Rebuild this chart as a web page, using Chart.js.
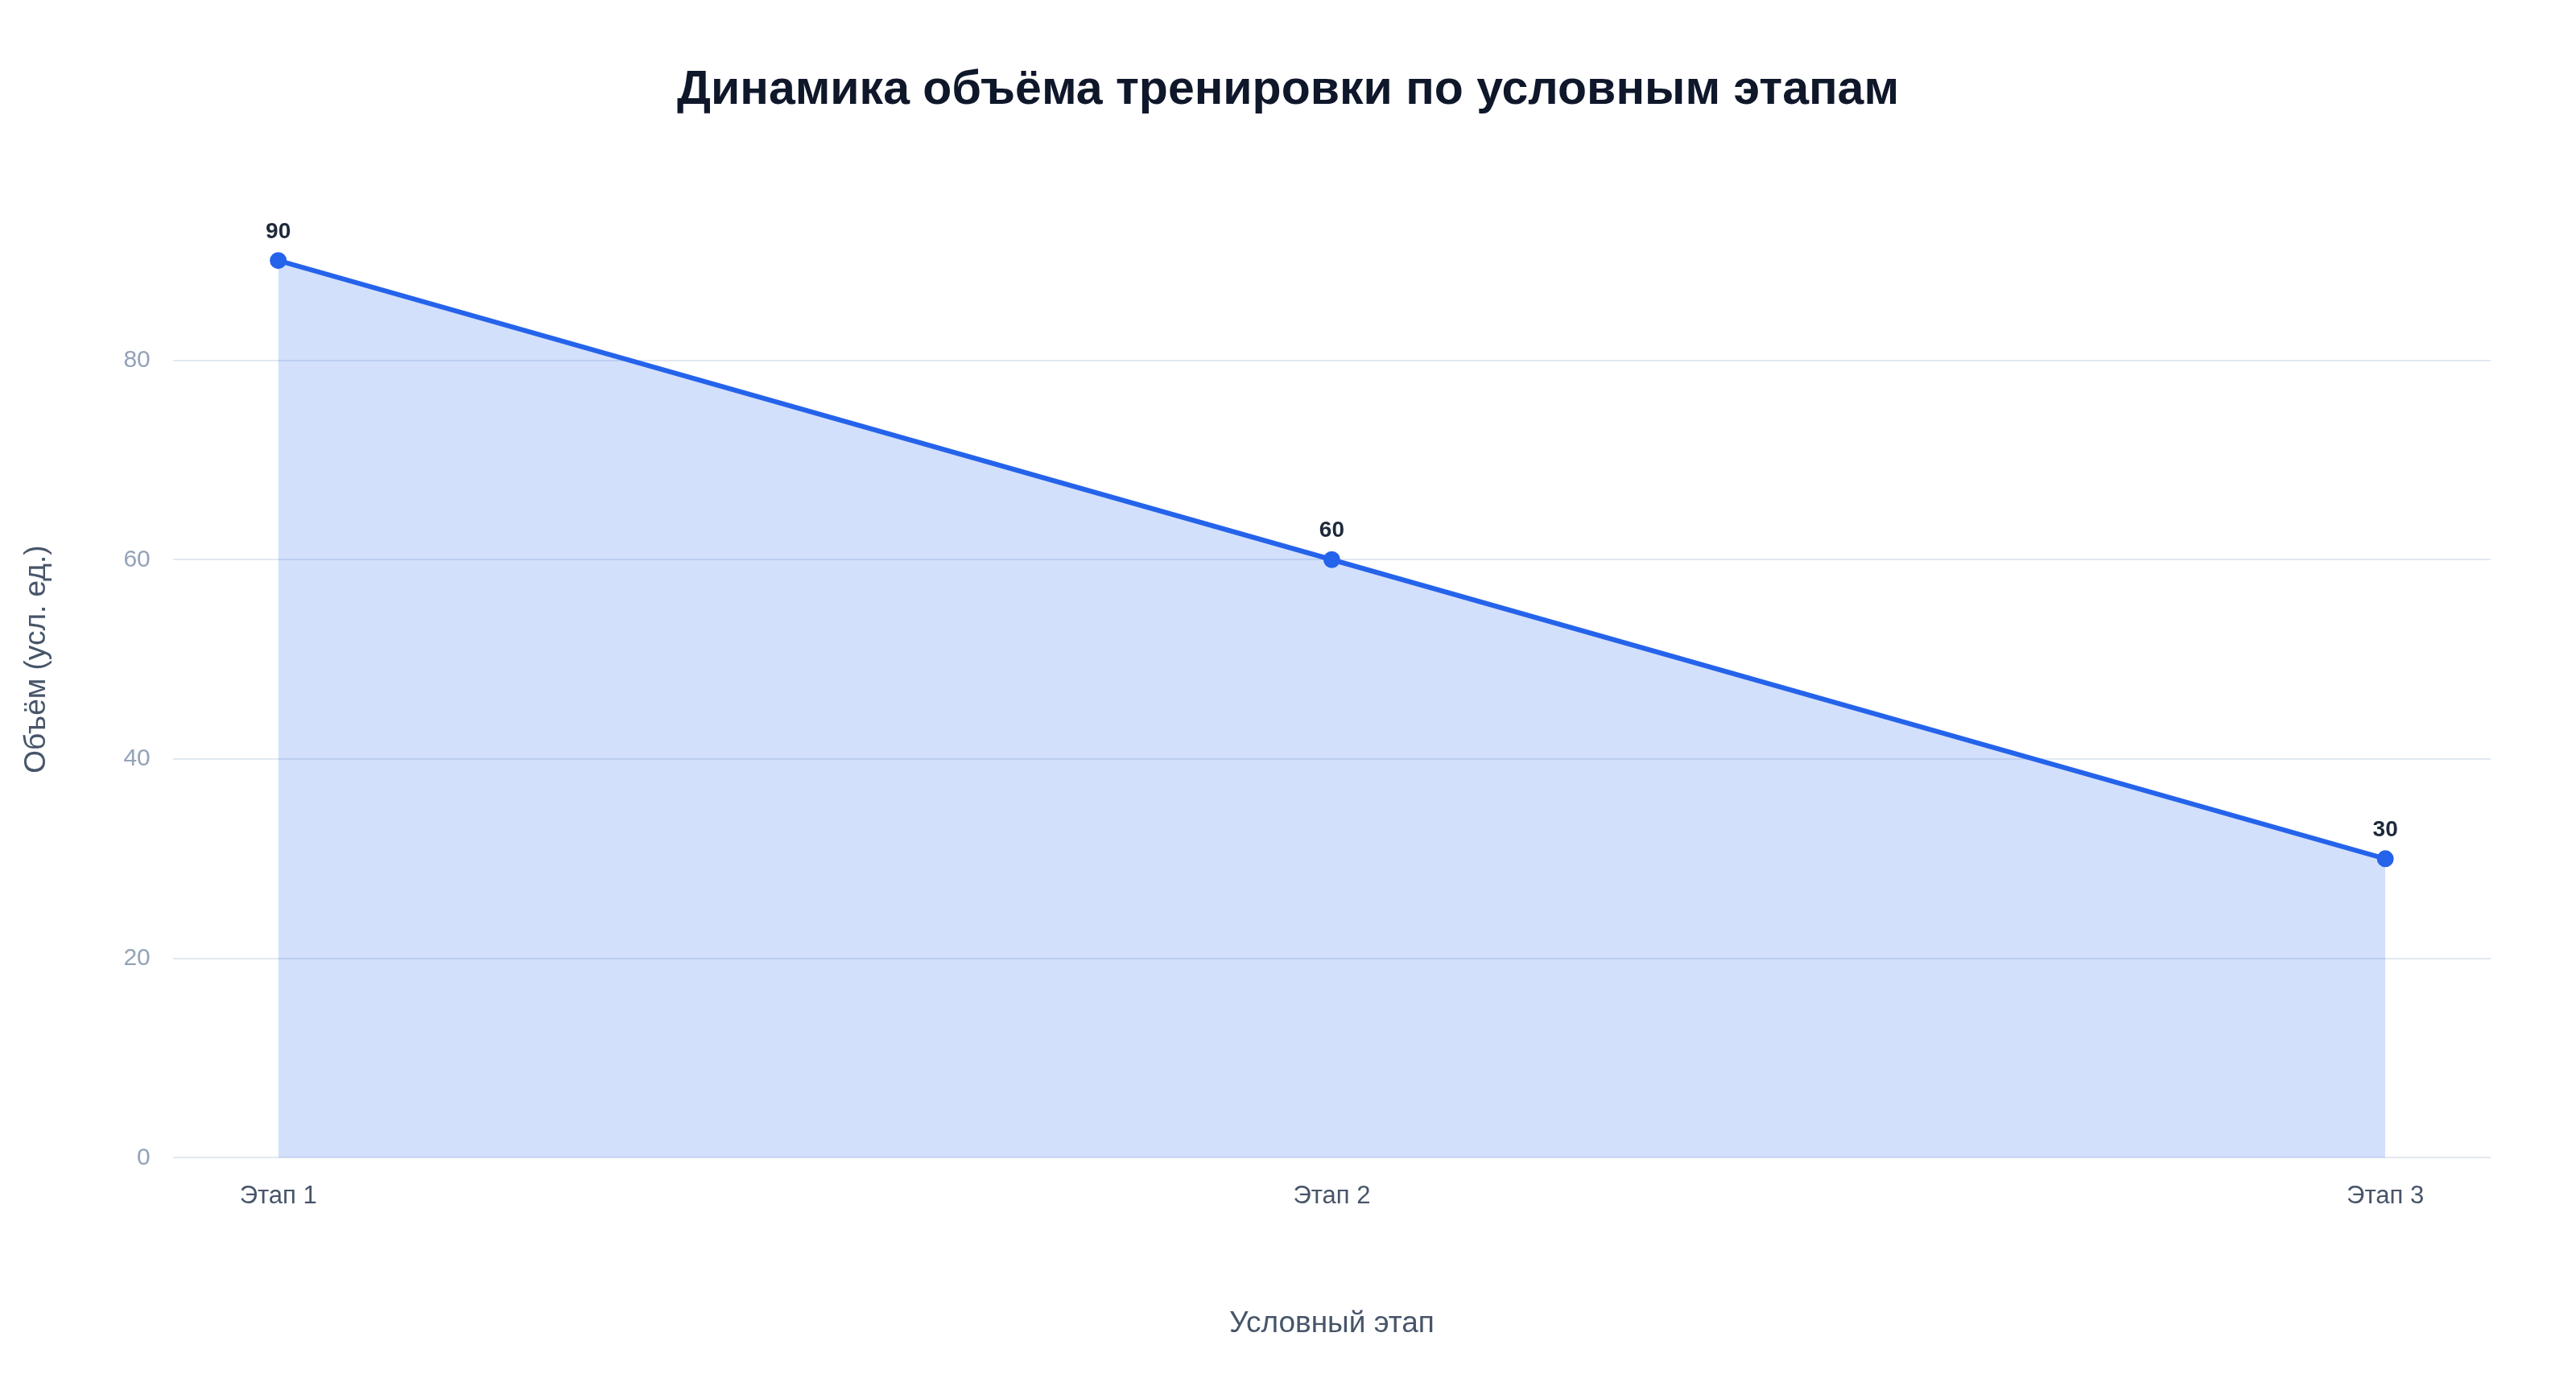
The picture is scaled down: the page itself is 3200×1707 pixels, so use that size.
<!DOCTYPE html>
<html lang="ru">
<head>
<meta charset="utf-8">
<title>Динамика объёма тренировки</title>
<script src="https://cdn.jsdelivr.net/npm/chart.js@4.4.1/dist/chart.umd.min.js"></script>
<style>
  html, body { margin: 0; padding: 0; background: #ffffff; }
  #wrap { width: 100vw; height: 100vh; }
</style>
</head>
<body>
<div id="wrap"><canvas id="volume-chart"></canvas></div>
<script>
// data
const stages = ['Этап 1', 'Этап 2', 'Этап 3'];
const volumes = [90, 60, 30];
const yTicks = [0, 20, 40, 60, 80];

const FONT = "'Liberation Sans', Arial, Helvetica, sans-serif";

// simple value labels above points (no datalabels plugin available)
const valueLabels = {
    id: 'valueLabels',
    afterDatasetsDraw(chart) {
        const ctx = chart.ctx;
        const meta = chart.getDatasetMeta(0);
        ctx.save();
        ctx.font = 'bold 28px ' + FONT;
        ctx.fillStyle = '#1e293b';
        ctx.textAlign = 'center';
        ctx.textBaseline = 'alphabetic';
        meta.data.forEach((pt, i) => {
            ctx.fillText(String(volumes[i]), pt.x, pt.y - 28);
        });
        ctx.restore();
    }
};

function renderChart() {
    const ctx = document.getElementById('volume-chart').getContext('2d');

    new Chart(ctx, {
        type: 'line',
        data: {
            datasets: [{
                label: 'Объём',
                data: volumes.map((v, i) => ({ x: i, y: v })),
                borderColor: '#2563eb',
                backgroundColor: 'rgba(37, 99, 235, 0.2)',
                borderWidth: 6,
                fill: 'origin',
                tension: 0,
                pointRadius: 9,
                pointBorderWidth: 3,
                pointBackgroundColor: '#2563eb',
                pointBorderColor: '#2563eb'
            }]
        },
        options: {
            responsive: true,
            maintainAspectRatio: false,
            animation: false,
            layout: {
                padding: { top: 20, left: 16, right: 16, bottom: 10 }
            },
            plugins: {
                legend: { display: false },
                tooltip: { enabled: false },
                title: {
                    display: true,
                    text: 'Динамика объёма тренировки по условным этапам',
                    color: '#0f172a',
                    font: { family: FONT, size: 59, weight: 'bold' },
                    padding: { top: 57, bottom: 52 }
                }
            },
            scales: {
                x: {
                    type: 'linear',
                    min: -0.1,
                    max: stages.length - 0.9,
                    afterBuildTicks: scale => {
                        scale.ticks = stages.map((s, i) => ({ value: i }));
                    },
                    ticks: {
                        color: '#475569',
                        font: { family: FONT, size: 31 },
                        padding: 29,
                        callback: v => stages[v]
                    },
                    grid: { display: false, drawTicks: false },
                    border: { display: false },
                    title: {
                        display: true,
                        text: 'Условный этап',
                        color: '#475569',
                        font: { family: FONT, size: 37 },
                        padding: { top: 89, bottom: 30 }
                    }
                },
                y: {
                    min: 0,
                    max: 100,
                    afterBuildTicks: scale => {
                        scale.ticks = yTicks.map(v => ({ value: v }));
                    },
                    ticks: {
                        color: '#94a3b8',
                        font: { family: FONT, size: 30 },
                        padding: 28
                    },
                    grid: { color: '#e2e8f0', lineWidth: 2, drawTicks: false },
                    border: { display: false },
                    title: {
                        display: true,
                        text: 'Объём (усл. ед.)',
                        color: '#475569',
                        font: { family: FONT, size: 37 },
                        padding: { top: 8, bottom: 57 }
                    }
                },
                // empty spacer on the right so the title stays centred on the page
                spacer: {
                    position: 'right',
                    display: true,
                    grid: { display: false, drawTicks: false },
                    border: { display: false },
                    ticks: { display: false },
                    afterFit: scale => { scale.width = 90; }
                }
            }
        },
        plugins: [valueLabels]
    });
}

renderChart();
</script>
</body>
</html>
